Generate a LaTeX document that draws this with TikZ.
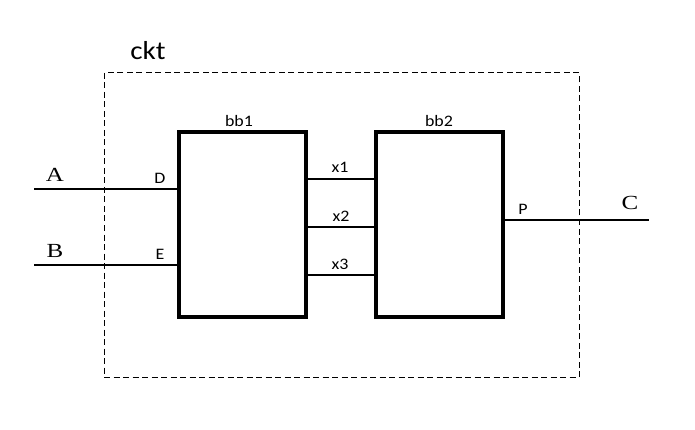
\documentclass[tikz,border=0pt]{standalone}
\usepackage{fontspec}
\setmainfont{Carlito}
\newfontfamily\lblfont[FakeStretch=1.12]{Carlito}
\newfontfamily\serifA[FakeStretch=1.25]{Liberation Serif}
\begin{document}
\begin{tikzpicture}[x=1pt,y=-1pt,
  blk/.style={draw,line width=3.5pt,minimum width=127pt,minimum height=185pt,inner sep=0pt},
  wire/.style={line width=1.1pt},
  lbl/.style={font=\lblfont\fontsize{16}{18}\selectfont,inner sep=0pt},
  sig/.style={font=\serifA\fontsize{20}{22}\selectfont,inner sep=0pt}]
\useasboundingbox (0,0) rectangle (695,430);
\node[draw,dash pattern=on 6pt off 3.5pt,line width=1pt,minimum width=475pt,minimum height=304pt,inner sep=0pt] (ckt) at (341.5,225) {};
\node[font=\lblfont\fontsize{26}{28}\selectfont,inner sep=0pt] (cktl) at (148,51) {ckt};
\node[blk] (bb1) at (242.5,224.5) {};
\node[blk] (bb2) at (439.5,224.5) {};
\node[lbl] (bb1l) at (239,121) {bb1};
\node[lbl] (bb2l) at (439,121) {bb2};
\coordinate (a) at (34,189);
\coordinate (b) at (34,265);
\coordinate (c) at (649,220);
\draw[wire] (a) -- (a -| bb1.west);
\draw[wire] (b) -- (b -| bb1.west);
\draw[wire] (bb2.east |- c) -- (c);
\coordinate (n1) at (306,179);
\coordinate (n2) at (306,227);
\coordinate (n3) at (306,275);
\draw[wire] (n1 -| bb1.east) -- (n1 -| bb2.west);
\draw[wire] (n2 -| bb1.east) -- (n2 -| bb2.west);
\draw[wire] (n3 -| bb1.east) -- (n3 -| bb2.west);
\node[lbl] (dl) at (160,178) {D};
\node[lbl] (el) at (160,254) {E};
\node[lbl] (x1l) at (340,167) {x1};
\node[lbl] (x2l) at (341,216) {x2};
\node[lbl] (x3l) at (340,264) {x3};
\node[lbl] (pl) at (523,209) {P};
\node[sig] (al) at (55,175) {A};
\node[sig] (bl) at (55,251) {B};
\node[sig] (cl) at (630,203) {C};
\end{tikzpicture}
\end{document}
